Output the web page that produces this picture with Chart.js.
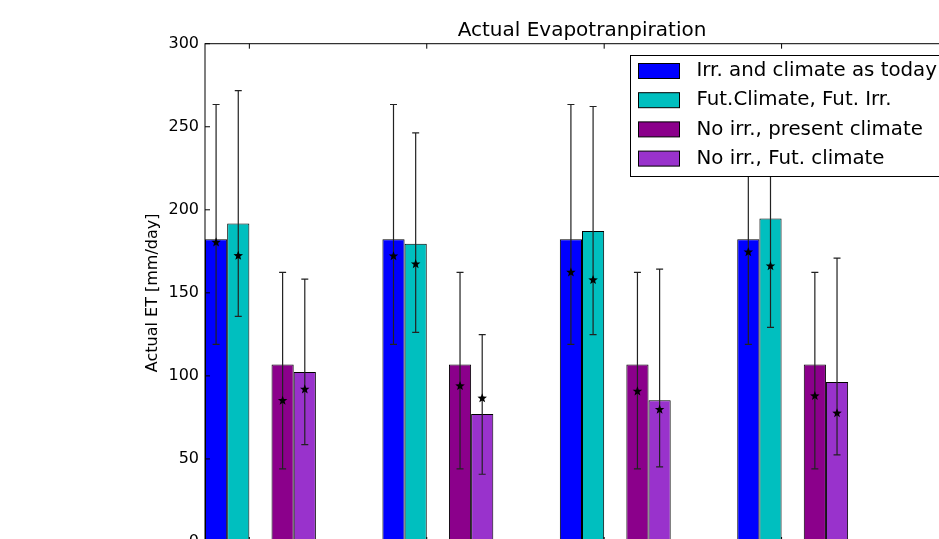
<!DOCTYPE html>
<html>
<head>
<meta charset="utf-8">
<script src="https://cdn.jsdelivr.net/npm/chart.js@4.4.1/dist/chart.umd.min.js"></script>
<style>
    html, body { margin: 0; padding: 0; background: #fff; overflow: hidden; }
    #wrap { position: absolute; left: 0; top: 0; width: 960px; height: 560px; }
</style>
</head>
<body>
<div id="wrap"><canvas id="et" width="960" height="560"></canvas></div>
<script>
// Vier Gruppen (Beschriftung der x-Achse liegt ausserhalb des Bildausschnitts)
const groups = ["1", "2", "3", "4"];

const seriesLabels = [
    "Irr. and climate as today",
    "Fut.Climate, Fut. Irr.",
    "No irr., present climate",
    "No irr., Fut. climate",
];

// Balkenhöhen
const barIrrToday      = [182.2, 182.2, 182.2, 182.2];
const barFutIrr        = [191.8, 179.6, 187.2, 194.8];
const barNoIrrPresent  = [106.8, 106.8, 106.8, 106.8];
const barNoIrrFut      = [102.3, 77.1, 85.3, 96.3];

// Sterne (Mittelwerte)
const starIrrToday     = [180.4, 172.1, 162.3, 174.5];
const starFutIrr       = [172.3, 167.3, 157.7, 166.1];
const starNoIrrPresent = [85.1, 93.9, 90.7, 87.9];
const starNoIrrFut     = [91.9, 86.5, 79.7, 77.5];

// Fehlerbalken unten / oben
const lowIrrToday      = [119.0, 119.0, 119.0, 119.0];
const highIrrToday     = [263.4, 263.4, 263.4, 263.4];
const lowFutIrr        = [135.8, 126.2, 124.8, 129.2];
const highFutIrr       = [271.8, 246.3, 262.2, 268.0];
const lowNoIrrPresent  = [44.0, 44.0, 44.0, 44.0];
const highNoIrrPresent = [162.3, 162.3, 162.3, 162.3];
const lowNoIrrFut      = [58.6, 40.8, 45.2, 52.4];
const highNoIrrFut     = [158.3, 124.8, 164.3, 170.9];

const yTickValues = [0, 50, 100, 150, 200, 250, 300];

const seriesColors = ["#0000ff", "#00bfbf", "#8b008b", "#9932cc"];

const FONT = "'DejaVu Sans', 'Liberation Sans', sans-serif";

// Achsenkonfiguration (Lage der Gruppen / Ticks relativ zum Gruppenindex)
const X_MIN = -0.3125;
const X_MAX = 3.9375;
const TICK_SHIFT = -0.0625;

const series = [
    { label: seriesLabels[0], bars: barIrrToday,     star: starIrrToday,     low: lowIrrToday,     high: highIrrToday },
    { label: seriesLabels[1], bars: barFutIrr,       star: starFutIrr,       low: lowFutIrr,       high: highFutIrr },
    { label: seriesLabels[2], bars: barNoIrrPresent, star: starNoIrrPresent, low: lowNoIrrPresent, high: highNoIrrPresent },
    { label: seriesLabels[3], bars: barNoIrrFut,     star: starNoIrrFut,     low: lowNoIrrFut,     high: highNoIrrFut },
];

function toPoints(values) {
    return values.map((v, i) => ({ x: i, y: v }));
}

const datasets = [];
series.forEach((s, k) => {
    // leerer Platzhalter zwischen den Paaren
    if (k === 2) {
        datasets.push({ label: "", gap: true, data: [], backgroundColor: "rgba(0,0,0,0)", borderWidth: 0 });
    }
    datasets.push({
        label: s.label,
        data: toPoints(s.bars),
        backgroundColor: seriesColors[k],
        borderColor: "#000",
        borderWidth: 1,
        borderSkipped: false,
        errLow: s.low,
        errHigh: s.high,
        marks: s.star,
    });
});

function drawStar(ctx, cx, cy, r) {
    const rIn = r * 0.42;
    ctx.beginPath();
    for (let k = 0; k < 10; k++) {
        const rad = k % 2 === 0 ? r : rIn;
        const a = -Math.PI / 2 + k * Math.PI / 5;
        ctx.lineTo(cx + rad * Math.cos(a), cy + rad * Math.sin(a));
    }
    ctx.closePath();
    ctx.fill();
}

// Fehlerbalken, Rahmen, Ticks nach innen, Legende
const extrasPlugin = {
    id: "mplExtras",
    afterDatasetsDraw(chart) {
        const ctx = chart.ctx;
        const area = chart.chartArea;
        const yS = chart.scales.y;
        const xS = chart.scales.x;

        ctx.save();

        // Fehlerbalken + Sterne
        chart.data.datasets.forEach((ds, di) => {
            if (ds.gap) return;
            const meta = chart.getDatasetMeta(di);
            meta.data.forEach((bar, i) => {
                const x = bar.x;
                const yHi = yS.getPixelForValue(ds.errHigh[i]);
                const yLo = yS.getPixelForValue(ds.errLow[i]);
                ctx.strokeStyle = "#222";
                ctx.lineWidth = 1.2;
                ctx.beginPath();
                ctx.moveTo(x, yLo);
                ctx.lineTo(x, yHi);
                ctx.moveTo(x - 3.5, yHi);
                ctx.lineTo(x + 3.5, yHi);
                ctx.moveTo(x - 3.5, yLo);
                ctx.lineTo(x + 3.5, yLo);
                ctx.stroke();
                ctx.fillStyle = "#000";
                drawStar(ctx, x, yS.getPixelForValue(ds.marks[i]), 5);
            });
        });

        // Achsenrahmen
        ctx.strokeStyle = "#000";
        ctx.lineWidth = 1;
        ctx.strokeRect(area.left, area.top, area.right - area.left, area.bottom - area.top);

        // Ticks nach innen
        ctx.beginPath();
        yS.ticks.forEach((t) => {
            const y = yS.getPixelForValue(t.value);
            ctx.moveTo(area.left, y);
            ctx.lineTo(area.left + 5, y);
            ctx.moveTo(area.right, y);
            ctx.lineTo(area.right - 5, y);
        });
        xS.ticks.forEach((t) => {
            const x = xS.getPixelForValue(t.value);
            ctx.moveTo(x, area.top);
            ctx.lineTo(x, area.top + 5);
            ctx.moveTo(x, area.bottom);
            ctx.lineTo(x, area.bottom - 5);
        });
        ctx.stroke();

        // Legende
        const boxLeft = 630.5;
        const boxTop = 55.5;
        const boxRight = 956;
        const boxBottom = 176.5;
        ctx.fillStyle = "#fff";
        ctx.fillRect(boxLeft, boxTop, boxRight - boxLeft, boxBottom - boxTop);
        ctx.strokeRect(boxLeft, boxTop, boxRight - boxLeft, boxBottom - boxTop);

        ctx.font = "19.8px " + FONT;
        ctx.textBaseline = "middle";
        ctx.textAlign = "left";
        let row = 0;
        chart.data.datasets.forEach((ds) => {
            if (ds.gap) return;
            const cy = 71 + row * 29.2;
            ctx.fillStyle = ds.backgroundColor;
            ctx.fillRect(638.5, cy - 7.5, 41, 15);
            ctx.strokeRect(638.5, cy - 7.5, 41, 15);
            ctx.fillStyle = "#000";
            ctx.fillText(ds.label, 696.5, cy);
            row++;
        });

        ctx.restore();
    },
};

Chart.defaults.font.family = FONT;
Chart.defaults.color = "#000";

new Chart(document.getElementById("et"), {
    type: "bar",
    data: { datasets },
    options: {
        responsive: false,
        animation: false,
        layout: { padding: { left: 0, right: 1, top: 0, bottom: 18 } },
        datasets: {
            bar: { categoryPercentage: 0.625, barPercentage: 1 },
        },
        plugins: {
            legend: { display: false },
            tooltip: { enabled: false },
            title: {
                display: true,
                text: "Actual Evapotranpiration",
                fullSize: false,
                color: "#000",
                font: { size: 20, weight: "normal" },
                padding: { top: 18.7, bottom: 1 },
            },
        },
        scales: {
            x: {
                type: "linear",
                display: false,
                offset: false,
                min: X_MIN,
                max: X_MAX,
                afterBuildTicks: (scale) => {
                    scale.ticks = groups.map((g, i) => ({ value: i + TICK_SHIFT }));
                },
            },
            y: {
                min: 0,
                max: 300,
                afterBuildTicks: (scale) => {
                    scale.ticks = yTickValues.map((v) => ({ value: v }));
                },
                grid: { display: false, drawTicks: false },
                border: { display: false },
                ticks: { padding: 6, color: "#000", font: { size: 16 } },
                title: {
                    display: true,
                    text: "Actual ET [mm/day]",
                    color: "#000",
                    font: { size: 16 },
                    padding: { top: 143, bottom: 0 },
                },
                afterFit: (scale) => {
                    scale.width = 205;
                },
            },
        },
    },
    plugins: [extrasPlugin],
});
</script>
</body>
</html>
